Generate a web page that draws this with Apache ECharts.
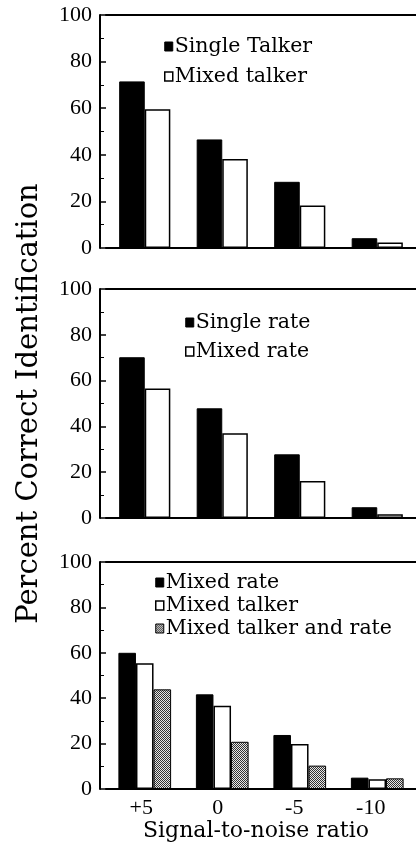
<!DOCTYPE html>
<html>
<head>
<meta charset="utf-8">
<script src="https://cdn.jsdelivr.net/npm/echarts@6/dist/echarts.min.js"></script>
<style>
html,body{margin:0;padding:0;background:#fff;}
#c{width:416px;height:845px;}
</style>
</head>
<body>
<div id="c"></div>
<script>
// ---- data ----
var categories = ['+5', '0', '-5', '-10'];
var yTicks = [0, 20, 40, 60, 80, 100];
// panel 1
var singleTalker = [71.5, 46.6, 28.4, 4.2];
var mixedTalkerA = [59.5, 38.2, 18.2, 2.4];
// panel 2
var singleRate = [70.2, 47.9, 27.8, 4.7];
var mixedRateB = [56.6, 37.0, 16.2, 1.6];
// panel 3
var mixedRateC = [60.0, 41.7, 23.8, 5.0];
var mixedTalkerC = [55.4, 36.7, 19.8, 4.3];
var mixedTalkerAndRate = [43.9, 20.8, 10.3, 4.7];

// ---- pattern for third series ----
var pc = document.createElement('canvas');
pc.width = 4; pc.height = 4;
var pctx = pc.getContext('2d');
pctx.fillStyle = '#e6e6e6'; pctx.fillRect(0, 0, 4, 4);
pctx.fillStyle = '#333';
[[0,0],[2,0],[1,1],[3,1],[0,2],[2,2],[1,3],[3,3]].forEach(function(p){ pctx.fillRect(p[0], p[1], 1, 1); });
var pattern = { image: pc, repeat: 'repeat' };

var serif = 'DejaVu Serif';
var times = 'Liberation Serif';

var grids = [
  { left: 106, right: -1, top: 15, height: 233 },
  { left: 106, right: -1, top: 289, height: 229 },
  { left: 106, right: -1, top: 562, height: 227 },
  // label-only grid for the shared category labels below panel 3
  { left: 103, right: 7, top: 562, height: 227 }
];

var lineBlack = { color: '#000', width: 2 };

function xBottom(i) {
  return {
    type: 'category', gridIndex: i, data: categories, position: 'bottom',
    axisLine: { show: true, onZero: false, lineStyle: lineBlack },
    axisTick: { show: false },
    axisLabel: { show: false },
    splitLine: { show: false }
  };
}
function xTop(i) {
  return {
    type: 'category', gridIndex: i, data: categories, position: 'top',
    axisLine: { show: true, onZero: false, lineStyle: lineBlack },
    axisTick: { show: false },
    axisLabel: { show: false },
    splitLine: { show: false }
  };
}
function yAx(i) {
  var a = {
    type: 'value', gridIndex: i, min: 0, max: 100, interval: 20, offset: 6,
    axisLine: { show: true, lineStyle: lineBlack },
    axisTick: { show: true, inside: true, length: 6, lineStyle: { color: '#000', width: 1.5 } },
    minorTick: { show: true, splitNumber: 2, length: 4, lineStyle: { color: '#000', width: 1 } },
    axisLabel: { color: '#000', fontFamily: times, fontSize: 22, margin: 8,
      formatter: function(v){ return yTicks.indexOf(v) >= 0 ? String(v) : ''; } },
    splitLine: { show: false }
  };
  if (i === 1) {
    a.name = 'Percent Correct Identification';
    a.nameLocation = 'middle';
    a.nameRotate = 90;
    a.nameGap = 56;
    a.nameTextStyle = { color: '#000', fontFamily: serif, fontSize: 29 };
  }
  return a;
}

var blackStyle = { color: '#000', borderColor: '#000', borderWidth: 1 };
var whiteStyle = { color: '#fff', borderColor: '#000', borderWidth: 1.5 };
var patStyle = { color: pattern, borderColor: '#000', borderWidth: 1 };

function bar(name, data, i, style, gap) {
  return { type: 'bar', name: name, data: data, xAxisIndex: i, yAxisIndex: i,
    itemStyle: style, barGap: '0%', barCategoryGap: gap, silent: true, animation: false };
}

function legend(left, top, gap, items) {
  return {
    left: left, top: top, orient: 'vertical', padding: 0, itemGap: gap,
    itemWidth: 8, itemHeight: 9, selectedMode: false,
    textStyle: { color: '#000', fontFamily: serif, fontSize: 20.5, lineHeight: 21, padding: [0, 0, 0, -3] },
    data: items
  };
}

var option = {
  backgroundColor: '#fff',
  animation: false,
  grid: grids,
  xAxis: [
    xBottom(0), xBottom(1), xBottom(2),
    xTop(0), xTop(1), xTop(2),
    {
      type: 'category', gridIndex: 3, data: categories, position: 'bottom',
      axisLine: { show: false }, axisTick: { show: false }, splitLine: { show: false },
      axisLabel: { show: true, color: '#000', fontFamily: times, fontSize: 22, margin: 8 },
      name: 'Signal-to-noise ratio', nameLocation: 'middle', nameGap: 28,
      nameTextStyle: { color: '#000', fontFamily: serif, fontSize: 22 }
    }
  ],
  yAxis: [yAx(0), yAx(1), yAx(2),
    { type: 'value', gridIndex: 3, min: 0, max: 100, show: false }],
  legend: [
    legend(164, 36, 9, [
      { name: 'Single Talker', itemStyle: blackStyle, icon: 'rect' },
      { name: 'Mixed talker', itemStyle: whiteStyle, icon: 'rect' }
    ]),
    legend(185, 312, 8, [
      { name: 'Single rate', itemStyle: blackStyle, icon: 'rect' },
      { name: 'Mixed rate', itemStyle: whiteStyle, icon: 'rect' }
    ]),
    legend(155, 572, 2, [
      { name: 'Mixed rate', itemStyle: blackStyle, icon: 'rect' },
      { name: 'Mixed talker', itemStyle: whiteStyle, icon: 'rect' },
      { name: 'Mixed talker and rate', itemStyle: patStyle, icon: 'rect' }
    ])
  ],
  series: [
    bar('Single Talker', singleTalker, 0, blackStyle, '34%'),
    bar('Mixed talker', mixedTalkerA, 0, whiteStyle, '34%'),
    bar('Single rate', singleRate, 1, blackStyle, '34%'),
    bar('Mixed rate', mixedRateB, 1, whiteStyle, '34%'),
    bar('Mixed rate', mixedRateC, 2, blackStyle, '32%'),
    bar('Mixed talker', mixedTalkerC, 2, whiteStyle, '32%'),
    bar('Mixed talker and rate', mixedTalkerAndRate, 2, patStyle, '32%')
  ]
};

var chart = echarts.init(document.getElementById('c'), null, { renderer: 'canvas' });
chart.setOption(option);
</script>
</body>
</html>
